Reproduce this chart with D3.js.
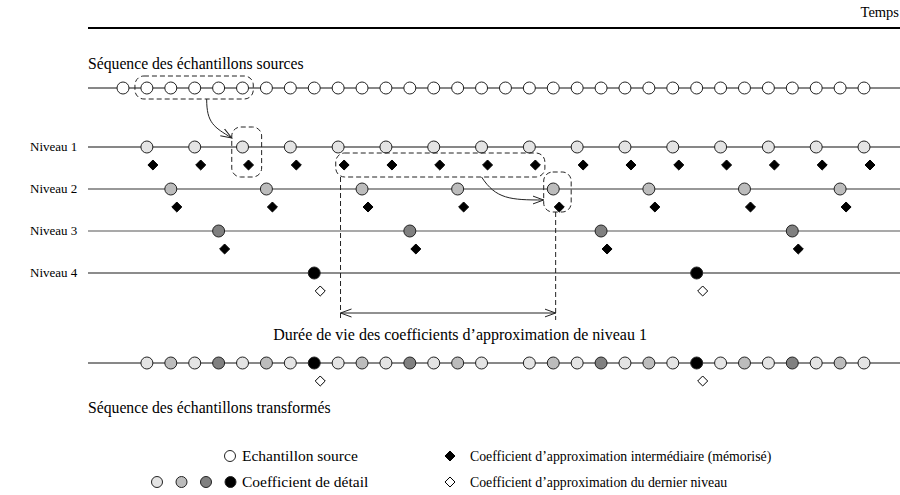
<!DOCTYPE html>
<html>
<head>
<meta charset="utf-8">
<script src="https://cdn.jsdelivr.net/npm/d3@7"></script>
<style>
  body { margin: 0; background: #fff; }
  svg text { font-family: "Liberation Serif", "Times New Roman", serif; font-size: 13px; fill: #000; }
</style>
</head>
<body>
<svg id="chart" width="900" height="495"></svg>
<script>
// Sample indices for each row of the diagram
const sourceIdx = [0,1,2,3,4,5,6,7,8,9,10,11,12,13,14,15,16,17,18,19,20,21,22,23,24,25,26,27,28,29,30,31];
const level1Idx = [1,3,5,7,9,11,13,15,17,19,21,23,25,27,29,31];
const level2Idx = [2,6,10,14,18,22,26,30];
const level3Idx = [4,12,20,28];
const level4Idx = [8,24];
const transformedIdx = [1,2,3,4,5,6,7,8,9,10,11,12,13,14,15,17,18,19,20,21,22,23,24,25,26,27,28,29,30,31];
const transformedLevel = [1,2,1,3,1,2,1,4,1,2,1,3,1,2,1,1,2,1,3,1,2,1,4,1,2,1,3,1,2,1];
const levelLabels = ['Niveau 1', 'Niveau 2', 'Niveau 3', 'Niveau 4'];
const levelFills = ['#e4e4e4', '#bcbcbc', '#808080', '#000000'];
const levelLines = ['#111', '#333', '#555', '#666'];

const svg = d3.select('#chart');
const r = 6;

// Horizontal time scale (sample index -> x)
const x = d3.scaleLinear().domain([0, 31]).range([123, 864]);
// Vertical position of each level row
const y = d3.scalePoint().domain(levelLabels).range([147, 273]);
const ySource = 88, yTrans = 363;
const xStart = 88, xEnd = 900;

// Arrow markers
const defs = svg.append('defs');
defs.append('marker')
    .attr('id', 'open')
    .attr('viewBox', '0 0 12 10')
    .attr('refX', 11).attr('refY', 5)
    .attr('markerWidth', 12).attr('markerHeight', 10)
    .attr('markerUnits', 'userSpaceOnUse')
    .attr('orient', 'auto-start-reverse')
  .append('path')
    .attr('d', 'M0,1 L11,5 L0,9')
    .attr('fill', 'none').attr('stroke', '#222').attr('stroke-width', 1);

// Time axis at the top
svg.append('line')
    .attr('x1', xStart).attr('x2', xEnd).attr('y1', 28).attr('y2', 28)
    .attr('stroke', '#000').attr('stroke-width', 2);
svg.append('text').attr('x', 899).attr('y', 17).attr('text-anchor', 'end')
    .style('font-size', '14.5px').text('Temps');

// Source sequence
svg.append('text').attr('x', 88).attr('y', 69).style('font-size', '15.7px')
    .text('Séquence des échantillons sources');
svg.append('line')
    .attr('x1', xStart).attr('x2', xEnd).attr('y1', ySource).attr('y2', ySource)
    .attr('stroke', '#111');
svg.selectAll('.src')
    .data(sourceIdx)
    .enter().append('circle')
    .attr('cx', d => x(d)).attr('cy', ySource).attr('r', r)
    .attr('fill', '#fff').attr('stroke', '#222');

// Levels
const levels = [level1Idx, level2Idx, level3Idx, level4Idx];
levels.forEach((idx, i) => {
    const yy = y(levelLabels[i]);
    svg.append('text').attr('x', 30).attr('y', yy + 4).text(levelLabels[i]);
    svg.append('line')
        .attr('x1', xStart).attr('x2', xEnd).attr('y1', yy).attr('y2', yy)
        .attr('stroke', levelLines[i]).attr('stroke-width', i === 3 ? 1.4 : 1.1);
    const g = svg.append('g');
    g.selectAll('circle')
        .data(idx)
        .enter().append('circle')
        .attr('cx', d => x(d)).attr('cy', yy).attr('r', r)
        .attr('fill', levelFills[i]).attr('stroke', '#222');
    g.selectAll('path')
        .data(idx)
        .enter().append('path')
        .attr('d', d3.symbol(d3.symbolDiamond2, 64)())
        .attr('transform', d => `translate(${x(d) + 6},${yy + 18})`)
        .attr('fill', i === 3 ? '#fff' : '#000')
        .attr('stroke', '#000').attr('stroke-width', 1);
});

// Transformed sequence
svg.append('line')
    .attr('x1', xStart).attr('x2', xEnd).attr('y1', yTrans).attr('y2', yTrans)
    .attr('stroke', '#111');
svg.selectAll('.tr')
    .data(transformedIdx)
    .enter().append('circle')
    .attr('cx', d => x(d)).attr('cy', yTrans).attr('r', r)
    .attr('fill', (d, i) => levelFills[transformedLevel[i] - 1]).attr('stroke', '#222');
svg.selectAll('.trd')
    .data(level4Idx)
    .enter().append('path')
    .attr('d', d3.symbol(d3.symbolDiamond2, 64)())
    .attr('transform', d => `translate(${x(d) + 6},${yTrans + 18})`)
    .attr('fill', '#fff').attr('stroke', '#000');
svg.append('text').attr('x', 88).attr('y', 413).style('font-size', '15.7px')
    .text('Séquence des échantillons transformés');

// Dashed annotation boxes
const dash = g => g.attr('fill', 'none').attr('stroke', '#222').attr('stroke-dasharray', '5,3').attr('stroke-width', 1);
function box(x0, y0, x1, y1) {
    svg.append('rect')
        .attr('x', x0).attr('y', y0).attr('width', x1 - x0).attr('height', y1 - y0)
        .attr('rx', 9).attr('ry', 9)
        .call(dash);
}
const y1 = y('Niveau 1'), y2 = y('Niveau 2');
box(x(0.5), ySource - 12, x(5.45), ySource + 11);
box(x(4.55), y1 - 20, x(5.8), y1 + 30);
box(x(8.9), y1 + 6, x(17.65), y1 + 30);
box(x(17.6), y2 - 17, x(18.75), y2 + 23);

// Curved arrows
svg.append('path')
    .attr('d', `M${x(3.5)},${ySource + 11} C${x(3.5)},${ySource + 35} ${x(3.8)},${y1 - 20} ${x(4.55)},${y1 - 9}`)
    .attr('fill', 'none').attr('stroke', '#222').attr('marker-end', 'url(#open)');
svg.append('path')
    .attr('d', `M${x(15)},${y1 + 30} C${x(15.6)},${y2 + 10} ${x(16.2)},${y2 + 11} ${x(17.6)},${y2 + 11}`)
    .attr('fill', 'none').attr('stroke', '#222').attr('marker-end', 'url(#open)');

// Lifetime of level 1 approximation coefficients
const xa = x(9.1), xb = x(18.1);
svg.append('line').attr('x1', xa).attr('x2', xa).attr('y1', y1 + 30).attr('y2', 320).call(dash);
svg.append('line').attr('x1', xb).attr('x2', xb).attr('y1', y2 + 23).attr('y2', 320).call(dash);
svg.append('line')
    .attr('x1', xa).attr('x2', xb).attr('y1', 313).attr('y2', 313)
    .attr('stroke', '#222')
    .attr('marker-start', 'url(#open)').attr('marker-end', 'url(#open)');
svg.append('text').attr('x', (xa + xb) / 2 + 12).attr('y', 340).attr('text-anchor', 'middle')
    .style('font-size', '16px')
    .text('Durée de vie des coefficients d’approximation de niveau 1');

// Legend
const legend = svg.append('g');
legend.append('circle').attr('cx', 230).attr('cy', 456).attr('r', 5.5).attr('fill', '#fff').attr('stroke', '#222');
legend.append('text').attr('x', 242).attr('y', 461).style('font-size', '15.5px').text('Echantillon source');
legend.selectAll('.lc')
    .data(levelFills)
    .enter().append('circle')
    .attr('cx', (d, i) => 157 + i * 24.5).attr('cy', 482).attr('r', 5.5)
    .attr('fill', d => d).attr('stroke', '#222');
legend.append('text').attr('x', 242).attr('y', 487).style('font-size', '15.5px').text('Coefficient de détail');
legend.append('path')
    .attr('d', d3.symbol(d3.symbolDiamond2, 64)())
    .attr('transform', 'translate(450,456)').attr('fill', '#000').attr('stroke', '#000');
legend.append('text').attr('x', 470).attr('y', 461).style('font-size', '13.8px')
    .text('Coefficient d’approximation intermédiaire (mémorisé)');
legend.append('path')
    .attr('d', d3.symbol(d3.symbolDiamond2, 64)())
    .attr('transform', 'translate(450,482)').attr('fill', '#fff').attr('stroke', '#000');
legend.append('text').attr('x', 470).attr('y', 487).style('font-size', '13.8px')
    .text('Coefficient d’approximation du dernier niveau');
</script>
</body>
</html>
